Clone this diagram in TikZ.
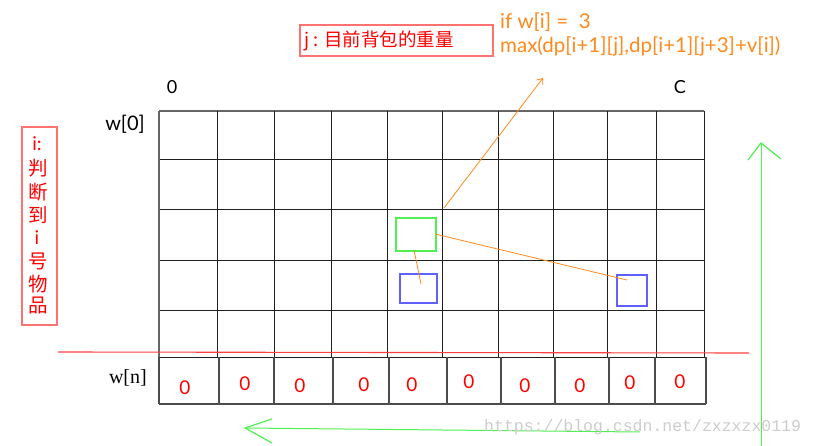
\documentclass[tikz,border=0pt]{standalone}
\usepackage{fontspec}
\setmainfont{Lato}
\newfontfamily\cjk{Noto Sans CJK SC}
\newfontfamily\wserif{Liberation Serif}
\newfontfamily\wmono{Liberation Mono}
\usetikzlibrary{arrows.meta}
\definecolor{tred}{HTML}{FF0000}
\definecolor{boxred}{HTML}{FF7272}
\definecolor{orng}{HTML}{FF8A1C}
\definecolor{grn}{HTML}{50F050}
\definecolor{blu}{HTML}{6060FF}
\definecolor{gridc}{HTML}{202020}
\definecolor{wm}{HTML}{CDCDCD}
\tikzset{
  gridline/.style={draw=gridc, line width=0.85pt},
  topline/.style={draw=black!60, line width=1.4pt},
  lbl/.style={inner sep=0pt, font=\fontsize{18}{20}\selectfont},
  zero/.style={inner sep=0pt, text=tred, font=\fontsize{19}{20}\selectfont},
  orngtxt/.style={inner sep=0pt, anchor=base west, text=orng, font=\fontsize{20.5}{22}\selectfont},
  redbox/.style={draw=boxred, line width=1.3pt},
  orline/.style={draw=orng, line width=0.8pt},
  grline/.style={draw=grn, line width=1pt},
  vch/.style={inner sep=0pt, text=tred, font=\cjk\fontsize{19.5}{20}\selectfont},
}
\begin{document}
\begin{tikzpicture}[x=1pt,y=-1pt]
\useasboundingbox[fill=white] (0,0) rectangle (814,446);
% grid upper part
\foreach \y in {159,209,260,310} \draw[gridline] (159,\y) -- (704,\y);
\draw[topline] (159,111) -- (704,111);
\foreach \x in {217,274,331,387,442,498,553,607,656,704}
  \draw[gridline] (\x,111) -- (\x,357);
\draw[draw=black!60, line width=1.4pt] (159,111) -- (159,357);
\draw[gridline] (159,357) -- (706,357);
% bottom row
\foreach \x in {159,219,274,333,389,447,501,555,609,655,706}
  \draw[draw=black!70, line width=1.1pt] (\x,357) -- (\x,404);
\draw[draw=black!70, line width=1.3pt] (159,404) -- (706,404);
% red separator
\coordinate (rl) at (58,352);
\coordinate (rr) at (749,353);
\draw[draw=tred!75, line width=1.1pt] (rl) -- (rr);
% zeros
\foreach \x/\y [count=\i] in {185/388,245/384,300/386,364/385,412/385,469/382,525/386,580/386,630/383,680/382}
  \node[zero] (z\i) at (\x,\y) {0};
% axis labels
\node[lbl] (c0) at (172,87) {0};
\node[lbl] (cC) at (680,87) {C};
\node[lbl, anchor=east, font=\fontsize{20}{22}\selectfont] (w0) at (145,124) {w[0]};
\node[inner sep=0pt, anchor=east, font=\wserif\fontsize{20}{22}\selectfont] (wn) at (147,378) {w[n]};
% left red box
\draw[redbox] (22,127) rectangle (57,325);
\node[vch, font=\fontsize{19}{20}\selectfont] (li) at (37,144) {i:};
\node[vch] (l1) at (38,168) {判};
\node[vch] (l2) at (38,192) {断};
\node[vch] (l3) at (38,215) {到};
\node[vch, font=\fontsize{19}{20}\selectfont] (l4) at (37,238) {i};
\node[vch] (l5) at (38,261) {号};
\node[vch] (l6) at (38,284) {物};
\node[vch] (l7) at (38,306) {品};
% top red box
\draw[redbox] (300,25) rectangle (493,56);
\node[inner sep=0pt, anchor=west, text=tred, font=\cjk\fontsize{18.5}{20}\selectfont] (jt) at (304,41) {j : 目前背包的重量};
% orange text
\node[orngtxt] (if) at (500,29) {if w[i] =\ \ 3};
\node[orngtxt] (mx) at (500,53) {max(dp[i+1][j],dp[i+1][j+3]+v[i])};
% small boxes
\draw[draw=grn, line width=1.2pt] (396,218) rectangle (436,251);
\draw[draw=blu, line width=1.2pt] (400,274) rectangle (437,303);
\draw[draw=blu, line width=1.2pt] (617,275) rectangle (647,306);
% orange connectors
\coordinate (a1) at (444,208);
\coordinate (a2) at (543,78);
\draw[orline, -{Straight Barb[length=5pt,width=8pt]}] (a1) -- (a2);
\coordinate (b1) at (435,234);
\coordinate (b2) at (627,280);
\draw[orline] (b1) -- (b2);
\coordinate (c1) at (414,250);
\coordinate (c2) at (421,284);
\draw[orline] (c1) -- (c2);
% green arrows
\coordinate (gv0) at (761,446);
\coordinate (gv1) at (761,143);
\coordinate (gvl) at (748,160);
\coordinate (gvr) at (781,159);
\draw[grline] (gv0) -- (gv1);
\draw[grline, line width=1.2pt] (gvl) -- (gv1) -- (gvr);
\coordinate (gh0) at (640,432);
\coordinate (gh1) at (245,428);
\coordinate (ghu) at (272,419);
\coordinate (ghd) at (272,443);
\draw[grline] (gh0) -- (gh1);
\draw[grline, line width=1.2pt] (ghu) -- (gh1) -- (ghd);
% watermark
\node[inner sep=0pt, anchor=west, text=wm, font=\wmono\fontsize{16.5}{18}\selectfont] (wmk) at (484,427) {https://blog.csdn.net/zxzxzx0119};
\end{tikzpicture}
\end{document}
